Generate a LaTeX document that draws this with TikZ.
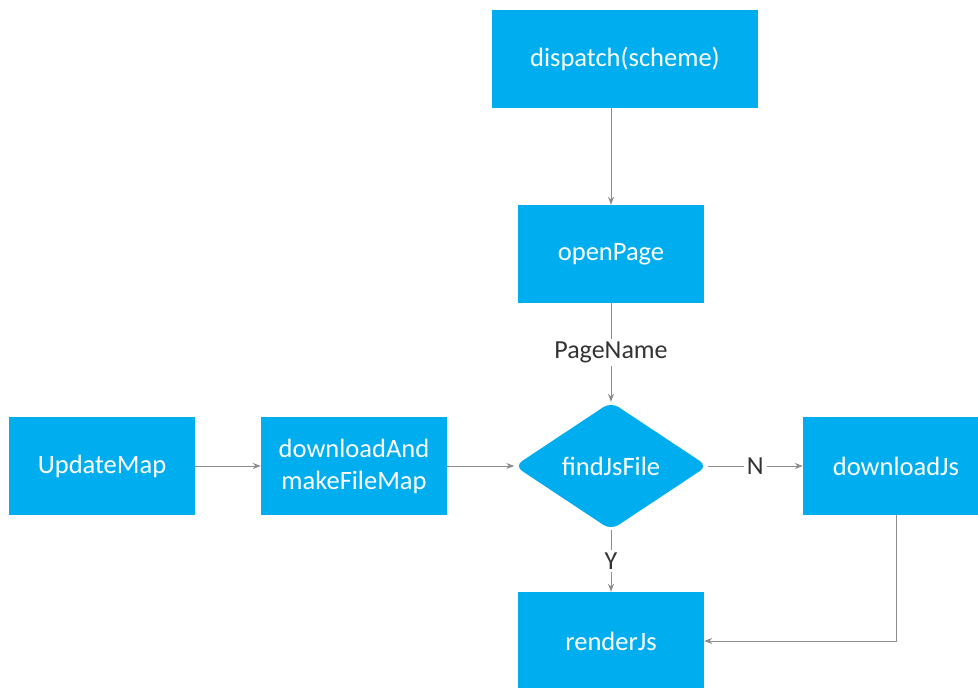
\documentclass[tikz,border=0pt]{standalone}
\usepackage{fontspec}
\setmainfont{Carlito}
\usetikzlibrary{shapes.geometric,arrows.meta}
\definecolor{boxblue}{RGB}{0,174,239}
\definecolor{linegray}{RGB}{140,140,140}
\definecolor{labelgray}{RGB}{51,51,51}
\tikzset{
  blk/.style={fill=boxblue, draw=none, text=white, minimum width=186pt, minimum height=98pt, inner sep=2pt, align=center, font=\fontsize{26.5}{32}\selectfont},
  dec/.style={diamond, fill=boxblue, draw=none, text=white, minimum width=193pt, minimum height=128pt, aspect=1.5, inner sep=0pt, rounded corners=9pt, font=\fontsize{26.5}{32}\selectfont},
  conn/.style={draw=linegray, line width=1pt, -{Stealth[length=8pt,width=6pt]}},
  lbl/.style={fill=white, text=labelgray, inner sep=3pt, font=\fontsize{26}{30}\selectfont}
}
\begin{document}
\begin{tikzpicture}[x=1pt,y=-1pt]
\useasboundingbox (0,0) rectangle (978,688);
\clip (0,0) rectangle (978,688);
\node[blk, minimum width=266pt] (dispatch) at (625,59) {dispatch(scheme)};
\node[blk] (open) at (611,254) {openPage};
\node[dec] (find) at (611,466) {findJsFile};
\node[blk] (update) at (102,466) {UpdateMap};
\node[blk] (dlmap) at (354,466) {downloadAnd\\makeFileMap};
\node[blk] (dljs) at (896,466) {downloadJs};
\node[blk] (render) at (611,641) {renderJs};

\draw[conn] (open.north |- dispatch.south) -- (open.north);
\draw[conn] (open.south) -- node[lbl] {PageName} (find.north);
\draw[conn] (update.east) -- (dlmap.west);
\draw[conn] (dlmap.east) -- (find.west);
\draw[conn] (find.east) -- node[lbl, pos=0.5] {N} (dljs.west);
\draw[conn] (find.south) -- node[lbl] {Y} (render.north);
\draw[conn] (dljs.south) |- (render.east);
\end{tikzpicture}
\end{document}
